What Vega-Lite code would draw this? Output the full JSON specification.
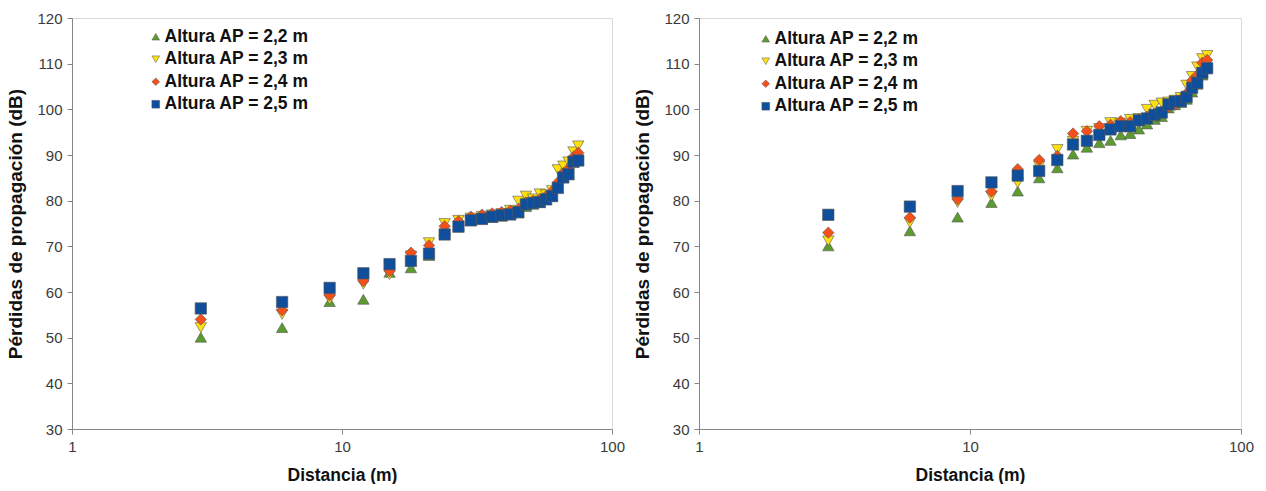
{
  "$schema": "https://vega.github.io/schema/vega-lite/v6.json",
  "padding": {"left": 5, "top": 10, "right": 0, "bottom": 0},
  "autosize": {"type": "pad"},
  "background": "white",
  "spacing": 87,
  "bounds": "flush",
  "config": {
    "font": "Liberation Sans",
    "view": {"stroke": "#d9d9d9", "strokeWidth": 1},
    "axis": {
      "grid": false,
      "domainColor": "#868686",
      "tickColor": "#868686",
      "tickSize": 5,
      "labelFont": "Liberation Sans",
      "labelFontSize": 15,
      "labelColor": "#3a3a3a",
      "titleFont": "Liberation Sans",
      "titleFontWeight": "bold",
      "titleColor": "#111111"
    },
    "legend": {
      "orient": "none",
      "title": null,
      "padding": 0,
      "labelFont": "Liberation Sans",
      "labelFontSize": 17.5,
      "labelFontWeight": "bold",
      "labelColor": "#111111",
      "symbolSize": 60,
      "rowPadding": 3.5,
      "labelOffset": 0,
      "symbolStrokeColor": "#555555",
      "symbolStrokeWidth": 0.5
    }
  },
  "datasets": {
    "left": [
      {"d": 3, "s": "Altura AP = 2,2 m", "L": 50.1},
      {"d": 6, "s": "Altura AP = 2,2 m", "L": 52.2},
      {"d": 9, "s": "Altura AP = 2,2 m", "L": 57.9},
      {"d": 12, "s": "Altura AP = 2,2 m", "L": 58.4},
      {"d": 15, "s": "Altura AP = 2,2 m", "L": 64.3},
      {"d": 18, "s": "Altura AP = 2,2 m", "L": 65.3},
      {"d": 21, "s": "Altura AP = 2,2 m", "L": 68.0},
      {"d": 24, "s": "Altura AP = 2,2 m", "L": 73.5},
      {"d": 27, "s": "Altura AP = 2,2 m", "L": 74.6},
      {"d": 30, "s": "Altura AP = 2,2 m", "L": 75.6},
      {"d": 33, "s": "Altura AP = 2,2 m", "L": 76.0},
      {"d": 36, "s": "Altura AP = 2,2 m", "L": 76.3},
      {"d": 39, "s": "Altura AP = 2,2 m", "L": 76.6},
      {"d": 42, "s": "Altura AP = 2,2 m", "L": 76.9},
      {"d": 45, "s": "Altura AP = 2,2 m", "L": 77.3},
      {"d": 48, "s": "Altura AP = 2,2 m", "L": 78.7},
      {"d": 51, "s": "Altura AP = 2,2 m", "L": 79.2},
      {"d": 54, "s": "Altura AP = 2,2 m", "L": 79.6},
      {"d": 57, "s": "Altura AP = 2,2 m", "L": 80.2},
      {"d": 60, "s": "Altura AP = 2,2 m", "L": 81.0},
      {"d": 63, "s": "Altura AP = 2,2 m", "L": 82.9},
      {"d": 66, "s": "Altura AP = 2,2 m", "L": 85.0},
      {"d": 69, "s": "Altura AP = 2,2 m", "L": 85.7},
      {"d": 72, "s": "Altura AP = 2,2 m", "L": 88.6},
      {"d": 75, "s": "Altura AP = 2,2 m", "L": 89.0},
      {"d": 3, "s": "Altura AP = 2,3 m", "L": 52.2},
      {"d": 6, "s": "Altura AP = 2,3 m", "L": 55.1},
      {"d": 9, "s": "Altura AP = 2,3 m", "L": 58.4},
      {"d": 12, "s": "Altura AP = 2,3 m", "L": 61.7},
      {"d": 15, "s": "Altura AP = 2,3 m", "L": 63.8},
      {"d": 18, "s": "Altura AP = 2,3 m", "L": 67.9},
      {"d": 21, "s": "Altura AP = 2,3 m", "L": 70.8},
      {"d": 24, "s": "Altura AP = 2,3 m", "L": 75.0},
      {"d": 27, "s": "Altura AP = 2,3 m", "L": 75.7},
      {"d": 30, "s": "Altura AP = 2,3 m", "L": 76.2},
      {"d": 33, "s": "Altura AP = 2,3 m", "L": 76.6},
      {"d": 36, "s": "Altura AP = 2,3 m", "L": 76.9},
      {"d": 39, "s": "Altura AP = 2,3 m", "L": 77.2},
      {"d": 42, "s": "Altura AP = 2,3 m", "L": 77.9},
      {"d": 45, "s": "Altura AP = 2,3 m", "L": 79.9},
      {"d": 48, "s": "Altura AP = 2,3 m", "L": 81.0},
      {"d": 51, "s": "Altura AP = 2,3 m", "L": 80.4},
      {"d": 54, "s": "Altura AP = 2,3 m", "L": 81.5},
      {"d": 57, "s": "Altura AP = 2,3 m", "L": 81.3},
      {"d": 60, "s": "Altura AP = 2,3 m", "L": 82.2},
      {"d": 63, "s": "Altura AP = 2,3 m", "L": 86.8},
      {"d": 66, "s": "Altura AP = 2,3 m", "L": 87.6},
      {"d": 69, "s": "Altura AP = 2,3 m", "L": 88.5},
      {"d": 72, "s": "Altura AP = 2,3 m", "L": 90.7},
      {"d": 75, "s": "Altura AP = 2,3 m", "L": 92.0},
      {"d": 3, "s": "Altura AP = 2,4 m", "L": 54.0},
      {"d": 6, "s": "Altura AP = 2,4 m", "L": 56.0},
      {"d": 9, "s": "Altura AP = 2,4 m", "L": 59.3},
      {"d": 12, "s": "Altura AP = 2,4 m", "L": 62.4},
      {"d": 15, "s": "Altura AP = 2,4 m", "L": 64.6},
      {"d": 18, "s": "Altura AP = 2,4 m", "L": 68.6},
      {"d": 21, "s": "Altura AP = 2,4 m", "L": 70.2},
      {"d": 24, "s": "Altura AP = 2,4 m", "L": 74.4},
      {"d": 27, "s": "Altura AP = 2,4 m", "L": 75.5},
      {"d": 30, "s": "Altura AP = 2,4 m", "L": 76.5},
      {"d": 33, "s": "Altura AP = 2,4 m", "L": 76.9},
      {"d": 36, "s": "Altura AP = 2,4 m", "L": 77.2},
      {"d": 39, "s": "Altura AP = 2,4 m", "L": 77.5},
      {"d": 42, "s": "Altura AP = 2,4 m", "L": 77.8},
      {"d": 45, "s": "Altura AP = 2,4 m", "L": 78.2},
      {"d": 48, "s": "Altura AP = 2,4 m", "L": 79.6},
      {"d": 51, "s": "Altura AP = 2,4 m", "L": 80.0},
      {"d": 54, "s": "Altura AP = 2,4 m", "L": 80.3},
      {"d": 57, "s": "Altura AP = 2,4 m", "L": 81.0},
      {"d": 60, "s": "Altura AP = 2,4 m", "L": 82.0},
      {"d": 63, "s": "Altura AP = 2,4 m", "L": 84.0},
      {"d": 66, "s": "Altura AP = 2,4 m", "L": 86.0},
      {"d": 69, "s": "Altura AP = 2,4 m", "L": 87.0},
      {"d": 72, "s": "Altura AP = 2,4 m", "L": 89.6},
      {"d": 75, "s": "Altura AP = 2,4 m", "L": 90.5},
      {"d": 3, "s": "Altura AP = 2,5 m", "L": 56.4},
      {"d": 6, "s": "Altura AP = 2,5 m", "L": 57.8},
      {"d": 9, "s": "Altura AP = 2,5 m", "L": 60.9},
      {"d": 12, "s": "Altura AP = 2,5 m", "L": 64.1},
      {"d": 15, "s": "Altura AP = 2,5 m", "L": 66.1},
      {"d": 18, "s": "Altura AP = 2,5 m", "L": 66.8},
      {"d": 21, "s": "Altura AP = 2,5 m", "L": 68.4},
      {"d": 24, "s": "Altura AP = 2,5 m", "L": 72.6},
      {"d": 27, "s": "Altura AP = 2,5 m", "L": 74.3},
      {"d": 30, "s": "Altura AP = 2,5 m", "L": 75.7},
      {"d": 33, "s": "Altura AP = 2,5 m", "L": 76.0},
      {"d": 36, "s": "Altura AP = 2,5 m", "L": 76.5},
      {"d": 39, "s": "Altura AP = 2,5 m", "L": 76.8},
      {"d": 42, "s": "Altura AP = 2,5 m", "L": 77.0},
      {"d": 45, "s": "Altura AP = 2,5 m", "L": 77.5},
      {"d": 48, "s": "Altura AP = 2,5 m", "L": 79.2},
      {"d": 51, "s": "Altura AP = 2,5 m", "L": 79.5},
      {"d": 54, "s": "Altura AP = 2,5 m", "L": 79.7},
      {"d": 57, "s": "Altura AP = 2,5 m", "L": 80.3},
      {"d": 60, "s": "Altura AP = 2,5 m", "L": 81.0},
      {"d": 63, "s": "Altura AP = 2,5 m", "L": 82.8},
      {"d": 66, "s": "Altura AP = 2,5 m", "L": 85.1},
      {"d": 69, "s": "Altura AP = 2,5 m", "L": 85.8},
      {"d": 72, "s": "Altura AP = 2,5 m", "L": 88.5},
      {"d": 75, "s": "Altura AP = 2,5 m", "L": 88.8}
    ],
    "right": [
      {"d": 3, "s": "Altura AP = 2,2 m", "L": 70.1},
      {"d": 6, "s": "Altura AP = 2,2 m", "L": 73.4},
      {"d": 9, "s": "Altura AP = 2,2 m", "L": 76.4},
      {"d": 12, "s": "Altura AP = 2,2 m", "L": 79.6},
      {"d": 15, "s": "Altura AP = 2,2 m", "L": 82.1},
      {"d": 18, "s": "Altura AP = 2,2 m", "L": 85.0},
      {"d": 21, "s": "Altura AP = 2,2 m", "L": 87.2},
      {"d": 24, "s": "Altura AP = 2,2 m", "L": 90.2},
      {"d": 27, "s": "Altura AP = 2,2 m", "L": 91.7},
      {"d": 30, "s": "Altura AP = 2,2 m", "L": 92.7},
      {"d": 33, "s": "Altura AP = 2,2 m", "L": 93.2},
      {"d": 36, "s": "Altura AP = 2,2 m", "L": 94.4},
      {"d": 39, "s": "Altura AP = 2,2 m", "L": 94.7},
      {"d": 42, "s": "Altura AP = 2,2 m", "L": 95.7},
      {"d": 45, "s": "Altura AP = 2,2 m", "L": 96.8},
      {"d": 48, "s": "Altura AP = 2,2 m", "L": 97.8},
      {"d": 51, "s": "Altura AP = 2,2 m", "L": 98.4},
      {"d": 54, "s": "Altura AP = 2,2 m", "L": 100.3},
      {"d": 57, "s": "Altura AP = 2,2 m", "L": 101.0},
      {"d": 60, "s": "Altura AP = 2,2 m", "L": 101.5},
      {"d": 63, "s": "Altura AP = 2,2 m", "L": 102.2},
      {"d": 66, "s": "Altura AP = 2,2 m", "L": 103.8},
      {"d": 69, "s": "Altura AP = 2,2 m", "L": 105.5},
      {"d": 72, "s": "Altura AP = 2,2 m", "L": 107.5},
      {"d": 75, "s": "Altura AP = 2,2 m", "L": 109.5},
      {"d": 3, "s": "Altura AP = 2,3 m", "L": 71.2},
      {"d": 6, "s": "Altura AP = 2,3 m", "L": 75.2},
      {"d": 9, "s": "Altura AP = 2,3 m", "L": 79.6},
      {"d": 12, "s": "Altura AP = 2,3 m", "L": 81.0},
      {"d": 15, "s": "Altura AP = 2,3 m", "L": 83.9},
      {"d": 18, "s": "Altura AP = 2,3 m", "L": 87.6},
      {"d": 21, "s": "Altura AP = 2,3 m", "L": 91.2},
      {"d": 24, "s": "Altura AP = 2,3 m", "L": 93.0},
      {"d": 27, "s": "Altura AP = 2,3 m", "L": 95.2},
      {"d": 30, "s": "Altura AP = 2,3 m", "L": 95.8},
      {"d": 33, "s": "Altura AP = 2,3 m", "L": 97.1},
      {"d": 36, "s": "Altura AP = 2,3 m", "L": 97.0},
      {"d": 39, "s": "Altura AP = 2,3 m", "L": 97.8},
      {"d": 42, "s": "Altura AP = 2,3 m", "L": 98.0},
      {"d": 45, "s": "Altura AP = 2,3 m", "L": 100.0},
      {"d": 48, "s": "Altura AP = 2,3 m", "L": 100.9},
      {"d": 51, "s": "Altura AP = 2,3 m", "L": 101.4},
      {"d": 54, "s": "Altura AP = 2,3 m", "L": 101.6},
      {"d": 57, "s": "Altura AP = 2,3 m", "L": 102.0},
      {"d": 60, "s": "Altura AP = 2,3 m", "L": 102.6},
      {"d": 63, "s": "Altura AP = 2,3 m", "L": 105.3},
      {"d": 66, "s": "Altura AP = 2,3 m", "L": 107.2},
      {"d": 69, "s": "Altura AP = 2,3 m", "L": 109.3},
      {"d": 72, "s": "Altura AP = 2,3 m", "L": 111.1},
      {"d": 75, "s": "Altura AP = 2,3 m", "L": 111.8},
      {"d": 3, "s": "Altura AP = 2,4 m", "L": 73.0},
      {"d": 6, "s": "Altura AP = 2,4 m", "L": 76.3},
      {"d": 9, "s": "Altura AP = 2,4 m", "L": 80.3},
      {"d": 12, "s": "Altura AP = 2,4 m", "L": 82.0},
      {"d": 15, "s": "Altura AP = 2,4 m", "L": 86.9},
      {"d": 18, "s": "Altura AP = 2,4 m", "L": 88.9},
      {"d": 21, "s": "Altura AP = 2,4 m", "L": 89.8},
      {"d": 24, "s": "Altura AP = 2,4 m", "L": 94.7},
      {"d": 27, "s": "Altura AP = 2,4 m", "L": 95.2},
      {"d": 30, "s": "Altura AP = 2,4 m", "L": 96.3},
      {"d": 33, "s": "Altura AP = 2,4 m", "L": 96.6},
      {"d": 36, "s": "Altura AP = 2,4 m", "L": 97.4},
      {"d": 39, "s": "Altura AP = 2,4 m", "L": 97.2},
      {"d": 42, "s": "Altura AP = 2,4 m", "L": 97.8},
      {"d": 45, "s": "Altura AP = 2,4 m", "L": 98.4},
      {"d": 48, "s": "Altura AP = 2,4 m", "L": 99.0},
      {"d": 51, "s": "Altura AP = 2,4 m", "L": 99.5},
      {"d": 54, "s": "Altura AP = 2,4 m", "L": 100.6},
      {"d": 57, "s": "Altura AP = 2,4 m", "L": 101.0},
      {"d": 60, "s": "Altura AP = 2,4 m", "L": 102.2},
      {"d": 63, "s": "Altura AP = 2,4 m", "L": 103.5},
      {"d": 66, "s": "Altura AP = 2,4 m", "L": 106.3},
      {"d": 69, "s": "Altura AP = 2,4 m", "L": 107.5},
      {"d": 72, "s": "Altura AP = 2,4 m", "L": 110.2},
      {"d": 75, "s": "Altura AP = 2,4 m", "L": 110.8},
      {"d": 3, "s": "Altura AP = 2,5 m", "L": 76.9},
      {"d": 6, "s": "Altura AP = 2,5 m", "L": 78.7},
      {"d": 9, "s": "Altura AP = 2,5 m", "L": 82.1},
      {"d": 12, "s": "Altura AP = 2,5 m", "L": 84.0},
      {"d": 15, "s": "Altura AP = 2,5 m", "L": 85.5},
      {"d": 18, "s": "Altura AP = 2,5 m", "L": 86.5},
      {"d": 21, "s": "Altura AP = 2,5 m", "L": 88.9},
      {"d": 24, "s": "Altura AP = 2,5 m", "L": 92.3},
      {"d": 27, "s": "Altura AP = 2,5 m", "L": 93.1},
      {"d": 30, "s": "Altura AP = 2,5 m", "L": 94.4},
      {"d": 33, "s": "Altura AP = 2,5 m", "L": 95.6},
      {"d": 36, "s": "Altura AP = 2,5 m", "L": 96.3},
      {"d": 39, "s": "Altura AP = 2,5 m", "L": 96.3},
      {"d": 42, "s": "Altura AP = 2,5 m", "L": 97.6},
      {"d": 45, "s": "Altura AP = 2,5 m", "L": 98.0},
      {"d": 48, "s": "Altura AP = 2,5 m", "L": 98.8},
      {"d": 51, "s": "Altura AP = 2,5 m", "L": 99.3},
      {"d": 54, "s": "Altura AP = 2,5 m", "L": 101.1},
      {"d": 57, "s": "Altura AP = 2,5 m", "L": 101.7},
      {"d": 60, "s": "Altura AP = 2,5 m", "L": 101.8},
      {"d": 63, "s": "Altura AP = 2,5 m", "L": 102.7},
      {"d": 66, "s": "Altura AP = 2,5 m", "L": 104.7},
      {"d": 69, "s": "Altura AP = 2,5 m", "L": 105.8},
      {"d": 72, "s": "Altura AP = 2,5 m", "L": 108.0},
      {"d": 75, "s": "Altura AP = 2,5 m", "L": 109.0}
    ]
  },
  "hconcat": [
    {
      "width": 540,
      "height": 411,
      "data": {"name": "left"},
      "mark": {"type": "point", "filled": true, "size": 130, "opacity": 1, "stroke": "#555555", "strokeWidth": 0.6},
      "encoding": {
        "x": {"field": "d", "type": "quantitative", "scale": {"type": "log", "domain": [1, 100]},
          "axis": {"values": [1, 10, 100], "format": "d", "title": "Distancia (m)", "titleFontSize": 17.5, "labelPadding": 5, "titlePadding": 12, "labelFlush": false}},
        "y": {"field": "L", "type": "quantitative", "scale": {"domain": [30, 120], "nice": false, "zero": false},
          "axis": {"values": [30, 40, 50, 60, 70, 80, 90, 100, 110, 120], "title": "Pérdidas de propagación (dB)", "titleFontSize": 19, "labelPadding": 5, "minExtent": 34, "maxExtent": 34, "titlePadding": 13}},
        "color": {"field": "s", "type": "nominal",
          "scale": {"domain": ["Altura AP = 2,2 m", "Altura AP = 2,3 m", "Altura AP = 2,4 m", "Altura AP = 2,5 m"], "range": ["#5B9B2F", "#FFE00F", "#F5501A", "#0F4E9B"]},
          "legend": {"legendX": 75, "legendY": 10}},
        "shape": {"field": "s", "type": "nominal",
          "scale": {"domain": ["Altura AP = 2,2 m", "Altura AP = 2,3 m", "Altura AP = 2,4 m", "Altura AP = 2,5 m"], "range": ["triangle-up", "triangle-down", "diamond", "square"]},
          "legend": {"legendX": 75, "legendY": 10}}
      }
    },
    {
      "width": 542,
      "height": 411,
      "data": {"name": "right"},
      "mark": {"type": "point", "filled": true, "size": 130, "opacity": 1, "stroke": "#555555", "strokeWidth": 0.6},
      "encoding": {
        "x": {"field": "d", "type": "quantitative", "scale": {"type": "log", "domain": [1, 100]},
          "axis": {"values": [1, 10, 100], "format": "d", "title": "Distancia (m)", "titleFontSize": 17.5, "labelPadding": 5, "titlePadding": 12, "labelFlush": false}},
        "y": {"field": "L", "type": "quantitative", "scale": {"domain": [30, 120], "nice": false, "zero": false},
          "axis": {"values": [30, 40, 50, 60, 70, 80, 90, 100, 110, 120], "title": "Pérdidas de propagación (dB)", "titleFontSize": 19, "labelPadding": 5, "minExtent": 34, "maxExtent": 34, "titlePadding": 13}},
        "color": {"field": "s", "type": "nominal",
          "scale": {"domain": ["Altura AP = 2,2 m", "Altura AP = 2,3 m", "Altura AP = 2,4 m", "Altura AP = 2,5 m"], "range": ["#5B9B2F", "#FFE00F", "#F5501A", "#0F4E9B"]},
          "legend": {"legendX": 58, "legendY": 12}},
        "shape": {"field": "s", "type": "nominal",
          "scale": {"domain": ["Altura AP = 2,2 m", "Altura AP = 2,3 m", "Altura AP = 2,4 m", "Altura AP = 2,5 m"], "range": ["triangle-up", "triangle-down", "diamond", "square"]},
          "legend": {"legendX": 58, "legendY": 12}}
      }
    }
  ],
  "resolve": {"scale": {"color": "independent", "shape": "independent"}, "legend": {"color": "independent", "shape": "independent"}}
}
